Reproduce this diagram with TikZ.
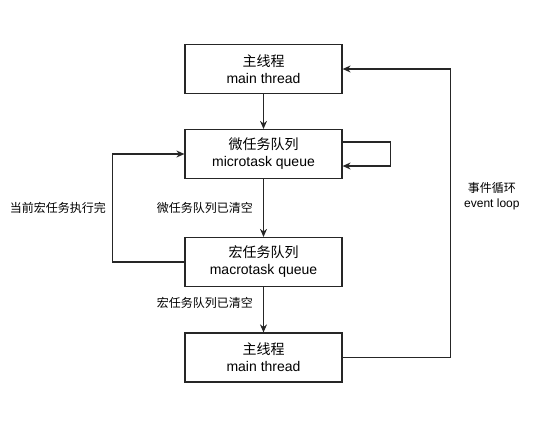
\documentclass[tikz,border=0pt]{standalone}
\usepackage{fontspec}
\setmainfont{Liberation Sans}
\newfontfamily\cjk{Noto Sans CJK SC}
\usetikzlibrary{arrows.meta}

\begin{document}
\begin{tikzpicture}[x=1pt,y=-1pt,
	box/.style={draw=black!85,line width=1.2pt,minimum width=157pt,minimum height=49pt,inner sep=0pt,align=center,font=\fontsize{14}{17}\selectfont},
	lbl/.style={align=center,inner sep=1pt,font=\fontsize{12}{15}\selectfont},
	line/.style={draw=black!85,line width=1.2pt,-{Stealth[length=8pt,width=7pt]}}]
	\useasboundingbox (0,0) rectangle (560,434);
	\node[box] (main) at (263.5,69) {{\cjk 主线程}\\main thread};
	\node[box] (micro) at (263.5,154) {{\cjk 微任务队列}\\microtask queue};
	\node[box] (macro) at (263.5,262) {{\cjk 宏任务队列}\\macrotask queue};
	\node[box] (mainb) at (263.5,357.5) {{\cjk 主线程}\\main thread};
	\draw[line] (main) -- (micro);
	\draw[line] (micro) -- node[lbl,left=9pt] {\cjk 微任务队列已清空} (macro);
	\draw[line] (macro) -- node[lbl,left=9pt,pos=0.35] {\cjk 宏任务队列已清空} (mainb);
	\draw[line] ([yshift=12pt]micro.east) -- ++(48,0) |- ([yshift=-12pt]micro.east);
	\draw[line] (macro.west) -- ++(-72,0) |- node[lbl,left=5pt,pos=0.25] {\cjk 当前宏任务执行完} (micro.west);
	\draw[line] (mainb.east) -- ++(108,0) |- node[lbl,right=12pt,pos=0.28] {{\cjk 事件循环}\\event loop} (main.east);
\end{tikzpicture}
\end{document}
